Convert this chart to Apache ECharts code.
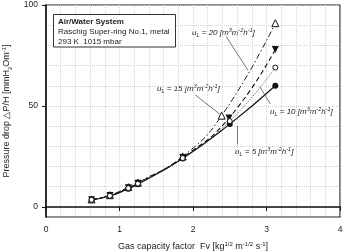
<!DOCTYPE html>
<html>
<head>
<meta charset="utf-8">
<script src="https://cdn.jsdelivr.net/npm/echarts@6/dist/echarts.min.js"></script>
<style>
  html, body { margin: 0; padding: 0; background: #fff; }
  #chart { width: 344px; height: 252px; }
</style>
</head>
<body>
<div id="chart"></div>
<script>
// Gas capacity factor Fv for each liquid load
const fv5 = [0.62, 0.87, 1.12, 1.25, 1.86, 2.50, 3.12];
const fv10 = [0.62, 0.87, 1.12, 1.25, 1.86, 2.50, 3.12];
const fv15 = [0.62, 0.87, 1.12, 1.25, 1.86, 2.49, 3.12];
const fv20 = [0.62, 0.87, 1.12, 1.25, 1.86, 2.39, 3.12];

// pressure drop dP/H [mmH2O/m]
const dp5 = [3.5, 5.4, 9.0, 11.2, 24.0, 41.0, 60.0];
const dp10 = [3.5, 5.5, 9.3, 11.5, 24.2, 42.5, 69.0];
const dp15 = [3.6, 5.6, 9.5, 11.7, 24.5, 44.0, 78.0];
const dp20 = [3.7, 5.8, 9.8, 12.0, 25.0, 45.2, 91.0];

const xTicks = [0, 1, 2, 3, 4];
const yTicks = [0, 50, 100];
const yGrid = [0, 10, 20, 30, 40, 50, 60, 70, 80, 90, 100];

function pairs(xs, ys) {
    return xs.map(function (x, i) { return [x, ys[i]]; });
}

const txt = '#222';
const sub = { fontSize: 5.5, fontStyle: 'italic', verticalAlign: 'bottom', color: txt };
const sup = { fontSize: 5.5, fontStyle: 'italic', verticalAlign: 'top', color: txt };
const it = { fontSize: 8, fontStyle: 'italic', color: txt, lineHeight: 11 };

function ulLabel(n) {
    return '{i|u}{sub|L}{i| = ' + n + ' [m}{sup|3}{i|m}{sup|-2}{i|h}{sup|-1}{i|]}';
}

function labelText(left, top, n) {
    return {
        type: 'text', left: left, top: top,
        style: { text: ulLabel(n), rich: { i: it, sub: sub, sup: sup }, fill: txt }
    };
}

const chartDom = document.getElementById('chart');
const myChart = echarts.init(chartDom);

const gridLine = { color: '#c8c8c8', type: [1, 1], width: 0.8 };

const option = {
    animation: false,
    textStyle: { fontFamily: 'Liberation Sans, Arial, sans-serif' },
    grid: {
        left: 46, right: 4, top: 5, bottom: 35,
        outerBoundsMode: 'none', containLabel: false,
        show: true, borderColor: '#222', borderWidth: 1.2
    },
    xAxis: {
        type: 'value', min: 0, max: 4, interval: 1,
        axisLine: { lineStyle: { color: '#111', width: 1.5 } },
        axisTick: { show: true, inside: false, length: 4, lineStyle: { color: '#111' } },
        axisLabel: { color: txt, fontSize: 8.5, margin: 8, customValues: xTicks },
        splitLine: { show: true, lineStyle: gridLine },
        minorTick: { show: false, splitNumber: 5 },
        minorSplitLine: { show: true, lineStyle: gridLine },
        name: '{a|Gas capacity factor  Fv [kg}{s|1/2}{a| m}{s|-1/2}{a| s}{s|-1}{a|]}',
        nameLocation: 'middle', nameGap: 24,
        nameTextStyle: {
            rich: {
                a: { fontSize: 9, color: txt, lineHeight: 12 },
                s: { fontSize: 6, color: txt, verticalAlign: 'top' }
            }
        }
    },
    yAxis: [
        {
            type: 'value', min: -5, max: 100,
            axisLine: { show: true, lineStyle: { color: '#111', width: 1.5 } },
            axisTick: { show: true, inside: false, length: 4, customValues: yTicks,
                lineStyle: { color: '#111' } },
            axisLabel: { color: txt, fontSize: 8.5, margin: 8, customValues: yTicks },
            splitLine: { show: false },
            name: '{a|Pressure drop \u25B3P/H [mmH}{b|2}{a|Om}{s|-1}{a|]}',
            nameLocation: 'middle', nameGap: 28, nameRotate: 90,
            nameTextStyle: {
                rich: {
                    a: { fontSize: 9, color: txt, lineHeight: 12 },
                    b: { fontSize: 6, color: txt, verticalAlign: 'bottom' },
                    s: { fontSize: 6, color: txt, verticalAlign: 'top' }
                }
            }
        },
        {
            type: 'value', min: -5, max: 100, position: 'left',
            axisLine: { show: false },
            axisTick: { show: false, customValues: yGrid },
            axisLabel: { show: false, customValues: yGrid },
            splitLine: { show: true, lineStyle: gridLine }
        }
    ],
    graphic: [
        {
            type: 'rect', shape: { x: 53.5, y: 14.5, width: 122, height: 32.5 },
            style: { fill: '#fff', stroke: '#333', lineWidth: 1 }, z: 10
        },
        {
            type: 'text', left: 58, top: 18, z: 11,
            style: { text: 'Air/Water System', font: 'bold 8px Liberation Sans, Arial, sans-serif', fill: txt }
        },
        {
            type: 'text', left: 58, top: 28, z: 11,
            style: { text: 'Raschig Super-ring No.1, metal', font: '8px Liberation Sans, Arial, sans-serif', fill: txt }
        },
        {
            type: 'text', left: 58, top: 37.5, z: 11,
            style: { text: '293 K  1015 mbar', font: '8px Liberation Sans, Arial, sans-serif', fill: txt }
        },
        labelText(192, 27, 20),
        labelText(157, 83, 15),
        labelText(270, 106, 10),
        labelText(235, 146, 5)
    ],
    series: [
        {
            name: 'uL=20', type: 'line', smooth: true, data: pairs(fv20, dp20),
            symbol: 'triangle', symbolSize: 7,
            itemStyle: { color: '#fff', borderColor: '#111', borderWidth: 1 },
            lineStyle: { color: '#222', width: 1, type: [6, 2.5, 1.5, 2.5] },
            markLine: {
                silent: true, symbol: 'none', label: { show: false },
                lineStyle: { color: '#555', width: 0.8, type: 'solid' },
                data: [
                    [{ coord: [2.45, 84.5] }, { coord: [2.75, 67.5] }],
                    [{ coord: [2.03, 55.5] }, { coord: [2.38, 45.5] }],
                    [{ coord: [2.91, 59.5] }, { coord: [3.05, 51] }],
                    [{ coord: [2.6, 40] }, { coord: [2.6, 31] }]
                ]
            }
        },
        {
            name: 'uL=15', type: 'line', smooth: true, data: pairs(fv15, dp15),
            symbol: 'triangle', symbolRotate: 180, symbolSize: 7,
            itemStyle: { color: '#111' },
            lineStyle: { color: '#111', width: 1.1, type: [5, 3] }
        },
        {
            name: 'uL=5', type: 'line', smooth: true, data: pairs(fv5, dp5),
            symbol: 'circle', symbolSize: 6,
            itemStyle: { color: '#111' },
            lineStyle: { color: '#111', width: 1.2, type: 'solid' }
        },
        {
            name: 'uL=10', type: 'line', smooth: true, data: pairs(fv10, dp10),
            symbol: 'circle', symbolSize: 5,
            itemStyle: { color: '#fff', borderColor: '#111', borderWidth: 1 },
            lineStyle: { color: '#333', width: 0.9, type: [1, 1.5] }
        }
    ]
};
myChart.setOption(option);
</script>
</body>
</html>
